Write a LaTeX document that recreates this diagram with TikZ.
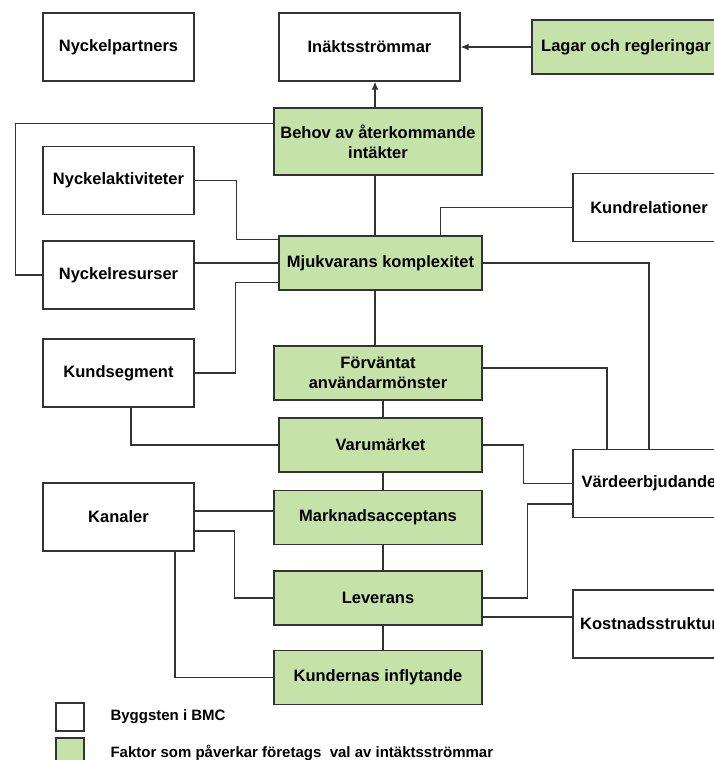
\documentclass[tikz,border=0pt]{standalone}
\usepackage{fontspec}
\setmainfont{Liberation Sans}
\usepackage{xcolor}
\usetikzlibrary{arrows.meta}
\definecolor{factorgreen}{RGB}{197,227,168}
\definecolor{edgegray}{RGB}{51,51,51}

\begin{document}
\begin{tikzpicture}[x=1pt,y=-1pt,
  block/.style={draw=edgegray,line width=1.4pt,fill=white,minimum width=151pt,minimum height=68pt,inner sep=2pt,align=center,font=\fontsize{16.5}{20}\selectfont\bfseries},
  factor/.style={block,fill=factorgreen,minimum width=208pt,minimum height=54pt},
  link/.style={draw=edgegray,line width=1.2pt},
  arr/.style={link,-{Latex[length=8pt,width=7pt]}},
  legendtext/.style={anchor=west,font=\fontsize{15}{18}\selectfont\bfseries}]
	\useasboundingbox (0,0) rectangle (714,760);
	\clip (0,0) rectangle (714,760);
	% spines of the middle column
	\coordinate (spineA) at (375,0);
	\coordinate (spineB) at (383,0);
	% building blocks of the BMC
	\node[block] (partners) at (118.5,47) {Nyckelpartners};
	\node[block,minimum width=181pt] (revenue) at (369.5,47) {Inäktsströmmar};
	\node[block] (activities) at (118.5,180.5) {Nyckelaktiviteter};
	\node[block,minimum width=152pt] (relations) at (649,207.5) {Kundrelationer};
	\node[block] (resources) at (118.5,275) {Nyckelresurser};
	\node[block] (segments) at (118.5,373) {Kundsegment};
	\node[block,minimum width=152pt] (value) at (649,483.5) {Värdeerbjudande};
	\node[block] (channels) at (118.5,517) {Kanaler};
	\node[block,minimum width=152pt] (costs) at (649,624) {Kostnadsstruktur};
	% factors
	\node[factor,minimum width=188pt] (laws) at (626,47) {Lagar och regleringar};
	\node[factor,minimum height=67pt] (need) at (378,141.5) {Behov av återkommande\\intäkter};
	\node[factor,minimum width=203pt] (complexity) at (380.5,263) {Mjukvarans komplexitet};
	\node[factor] (usage) at (378,373) {Förväntat\\användarmönster};
	\node[factor,minimum width=203pt] (brand) at (380.5,445) {Varumärket};
	\node[factor] (acceptance) at (378,517.5) {Marknadsacceptans};
	\node[factor] (delivery) at (378,598) {Leverans};
	\node[factor] (influence) at (378,677.5) {Kundernas inflytande};
	% connectors
	\draw[arr] (need.north -| spineA) -- (revenue.south -| spineA);
	\draw[arr] (laws) -- (revenue);
	\draw[link] ([yshift=-16pt]need.north west) -- ++(-258,0) |- (resources.west);
	\draw[link] (activities.east) -- ++(42,0) |- ([yshift=-4pt]complexity.north west);
	\draw[link] (relations.west) -| ([xshift=60pt]complexity.north);
	\draw[link] (need.south -| spineA) -- (complexity.north -| spineA);
	\draw[link] (complexity.west) -- (complexity.west -| resources.east);
	\draw[link] ([yshift=8pt]complexity.south west) -- ++(-43,0) |- (segments.east);
	\draw[link] (complexity.east) -| (value.north);
	\draw[link] (complexity.south -| spineA) -- (usage.north -| spineA);
	\draw[link] ([yshift=5pt]usage.east) -| ([xshift=-42pt]value.north);
	\draw[link] (usage.south -| spineB) -- (brand.north -| spineB);
	\draw[link] ([xshift=12.5pt]segments.south) |- (brand.west);
	\draw[link] (brand.east) -- ++(41,0) |- (value.west);
	\draw[link] (brand.south -| spineB) -- (acceptance.north -| spineB);
	\draw[link] ([yshift=6pt]channels.east) coordinate (c1) -- (c1 -| acceptance.west);
	\draw[link] ([yshift=-14pt]channels.east) -- ++(40,0) |- (delivery.west);
	\draw[link] ([xshift=56.5pt]channels.south) |- (influence.west);
	\draw[link] (acceptance.south -| spineB) -- (delivery.north -| spineB);
	\draw[link] (delivery.south -| spineB) -- (influence.north -| spineB);
	\draw[link] (delivery.east) -- ++(45,0) |- ([yshift=-20.5pt]value.west);
	\draw[link] ([yshift=-19pt]delivery.east) coordinate (d1) -- (d1 -| costs.west);
	% legend
	\node[draw=edgegray,line width=1.4pt,fill=white,minimum size=28pt,inner sep=0pt] (keyblock) at (70,717) {};
	\node[legendtext] (keyblocktext) at (107,717) {Byggsten i BMC};
	\node[draw=edgegray,line width=1.4pt,fill=factorgreen,minimum size=28pt,inner sep=0pt] (keyfactor) at (70,752) {};
	\node[legendtext] (keyfactortext) at (107,753) {Faktor som påverkar företags\ \ val av intäktsströmmar};
\end{tikzpicture}
\end{document}
